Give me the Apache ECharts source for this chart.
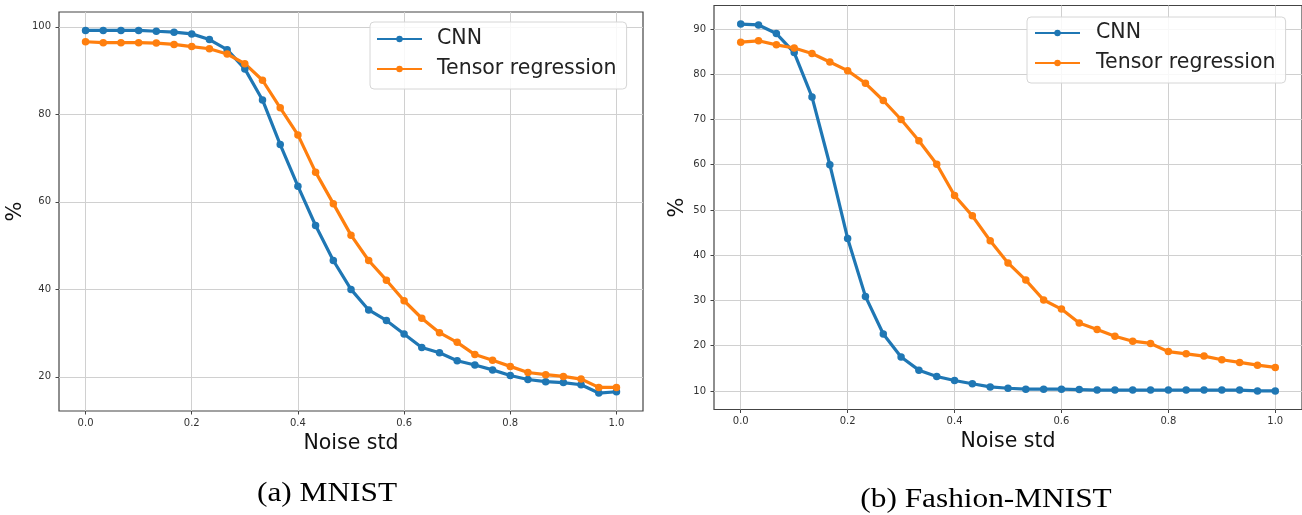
<!DOCTYPE html>
<html>
<head>
<meta charset="utf-8">
<script src="https://cdn.jsdelivr.net/npm/echarts@6/dist/echarts.min.js"></script>
<style>
html,body{margin:0;padding:0;background:#fff;}
#chart{width:1302px;height:515px;}
</style>
</head>
<body>
<div id="chart"></div>
<script>
// Noise std values (x)
const noise = [0, 0.0333, 0.0667, 0.1, 0.1333, 0.1667, 0.2, 0.2333, 0.2667, 0.3,
  0.3333, 0.3667, 0.4, 0.4333, 0.4667, 0.5, 0.5333, 0.5667, 0.6, 0.6333,
  0.6667, 0.7, 0.7333, 0.7667, 0.8, 0.8333, 0.8667, 0.9, 0.9333, 0.9667, 1.0];

// (a) MNIST
const mnistCNN = [99.2, 99.2, 99.2, 99.2, 99.0, 98.8, 98.4, 97.1, 94.8, 90.4,
  83.3, 73.1, 63.6, 54.6, 46.6, 40.0, 35.3, 32.9, 29.8, 26.7,
  25.5, 23.7, 22.7, 21.6, 20.3, 19.4, 18.9, 18.7, 18.2, 16.3, 16.6];
const mnistTR = [96.6, 96.4, 96.4, 96.4, 96.3, 96.0, 95.5, 95.0, 93.8, 91.6,
  87.8, 81.5, 75.3, 66.8, 59.6, 52.4, 46.6, 42.1, 37.4, 33.4,
  30.1, 27.9, 25.1, 23.8, 22.4, 21.0, 20.5, 20.1, 19.5, 17.6, 17.6];

// (b) Fashion-MNIST
const fashionCNN = [91.1, 90.9, 89.0, 84.8, 75.0, 60.0, 43.7, 30.9, 22.6, 17.5,
  14.6, 13.2, 12.3, 11.6, 10.9, 10.6, 10.4, 10.4, 10.4, 10.3,
  10.2, 10.2, 10.2, 10.2, 10.2, 10.2, 10.2, 10.2, 10.2, 10.0, 10.0];
const fashionTR = [87.1, 87.4, 86.5, 85.8, 84.6, 82.7, 80.8, 78.0, 74.2, 70.0,
  65.3, 60.1, 53.2, 48.7, 43.2, 38.3, 34.5, 30.1, 28.1, 25.0,
  23.6, 22.1, 21.0, 20.5, 18.7, 18.2, 17.7, 16.9, 16.3, 15.7, 15.2];

// tick labels
const xTicks = [0, 0.2, 0.4, 0.6, 0.8, 1.0];
const yTicksA = [20, 40, 60, 80, 100];
const yTicksB = [10, 20, 30, 40, 50, 60, 70, 80, 90];

const seriesNames = ['CNN', 'Tensor regression'];
const colors = ['#1f77b4', '#ff7f0e'];

const FONT = 'DejaVu Sans';

function pairs(ys) { return noise.map((x, i) => [x, ys[i]]); }

function xAxisCfg(gridIndex, fs) {
  return {
    type: 'value', gridIndex: gridIndex, min: -0.05, max: 1.05,
    name: 'Noise std', nameLocation: 'middle', nameGap: 19,
    nameTextStyle: { fontFamily: FONT, fontSize: 20.5, color: '#111' },
    axisLine: { show: false, onZero: false },
    axisTick: { show: true, length: 3.5, customValues: xTicks, lineStyle: { color: '#444', width: 1 } },
    axisLabel: { customValues: xTicks, margin: 7, fontFamily: FONT, fontSize: fs, color: '#333',
      formatter: v => v.toFixed(1) },
    splitLine: { show: true, lineStyle: { color: '#d0d0d0', width: 1 } }
  };
}
function yAxisCfg(gridIndex, min, max, ticks, gap, fs) {
  return {
    type: 'value', gridIndex: gridIndex, min: min, max: max,
    name: '%', nameLocation: 'middle', nameGap: gap,
    nameTextStyle: { fontFamily: FONT, fontSize: 21, color: '#111' },
    axisLine: { show: false, onZero: false },
    axisTick: { show: true, length: 3.5, customValues: ticks, lineStyle: { color: '#444', width: 1 } },
    axisLabel: { customValues: ticks, margin: 8, fontFamily: FONT, fontSize: fs, color: '#333' },
    splitLine: { show: true, lineStyle: { color: '#d0d0d0', width: 1 } }
  };
}
function lineSeries(name, color, xi, yi, ys) {
  return {
    type: 'line', name: name, xAxisIndex: xi, yAxisIndex: yi,
    data: pairs(ys), symbol: 'circle', symbolSize: 7.5, showSymbol: true,
    lineStyle: { color: color, width: 3.2 }, itemStyle: { color: color },
    emphasis: { disabled: true }, animation: false
  };
}
function legendCfg(left, top, padding, textPad) {
  return {
    orient: 'vertical', left: left, top: top, data: seriesNames,
    itemWidth: 45, itemHeight: 8, itemGap: 6,
    padding: padding,
    backgroundColor: 'rgba(255,255,255,0.85)', borderColor: '#d6d6d6', borderWidth: 1, borderRadius: 4,
    textStyle: { fontFamily: FONT, fontSize: 20.5, color: '#222', lineHeight: 24, padding: [0, 0, 0, textPad] }
  };
}

const chart = echarts.init(document.getElementById('chart'), null, { renderer: 'canvas' });
chart.setOption({
  animation: false,
  backgroundColor: '#fff',
  grid: [
    { left: 59, top: 12, width: 584, height: 399, show: true, borderColor: '#444', borderWidth: 1.2, backgroundColor: 'transparent' },
    { left: 714, top: 5.5, width: 589, height: 404, show: true, borderColor: '#444', borderWidth: 1.2, backgroundColor: 'transparent' }
  ],
  xAxis: [xAxisCfg(0, 10), xAxisCfg(1, 10)],
  yAxis: [yAxisCfg(0, 12.2, 103.4, yTicksA, 33, 10), yAxisCfg(1, 5.9, 95.2, yTicksB, 26, 10)],
  legend: [legendCfg(370, 22, [5, 10, 8, 6], 10), legendCfg(1027, 17, [4, 10, 8, 7], 11)],
  series: [
    lineSeries(seriesNames[0], colors[0], 0, 0, mnistCNN),
    lineSeries(seriesNames[1], colors[1], 0, 0, mnistTR),
    lineSeries(seriesNames[0], colors[0], 1, 1, fashionCNN),
    lineSeries(seriesNames[1], colors[1], 1, 1, fashionTR)
  ],
  graphic: [
    { type: 'text', x: 327, y: 494, scaleX: 1.16,
      style: { text: '(a) MNIST', font: '27px "Liberation Serif"', fill: '#000', align: 'center', verticalAlign: 'middle' } },
    { type: 'text', x: 986, y: 500, scaleX: 1.16,
      style: { text: '(b) Fashion-MNIST', font: '27px "Liberation Serif"', fill: '#000', align: 'center', verticalAlign: 'middle' } }
  ]
});
</script>
</body>
</html>
